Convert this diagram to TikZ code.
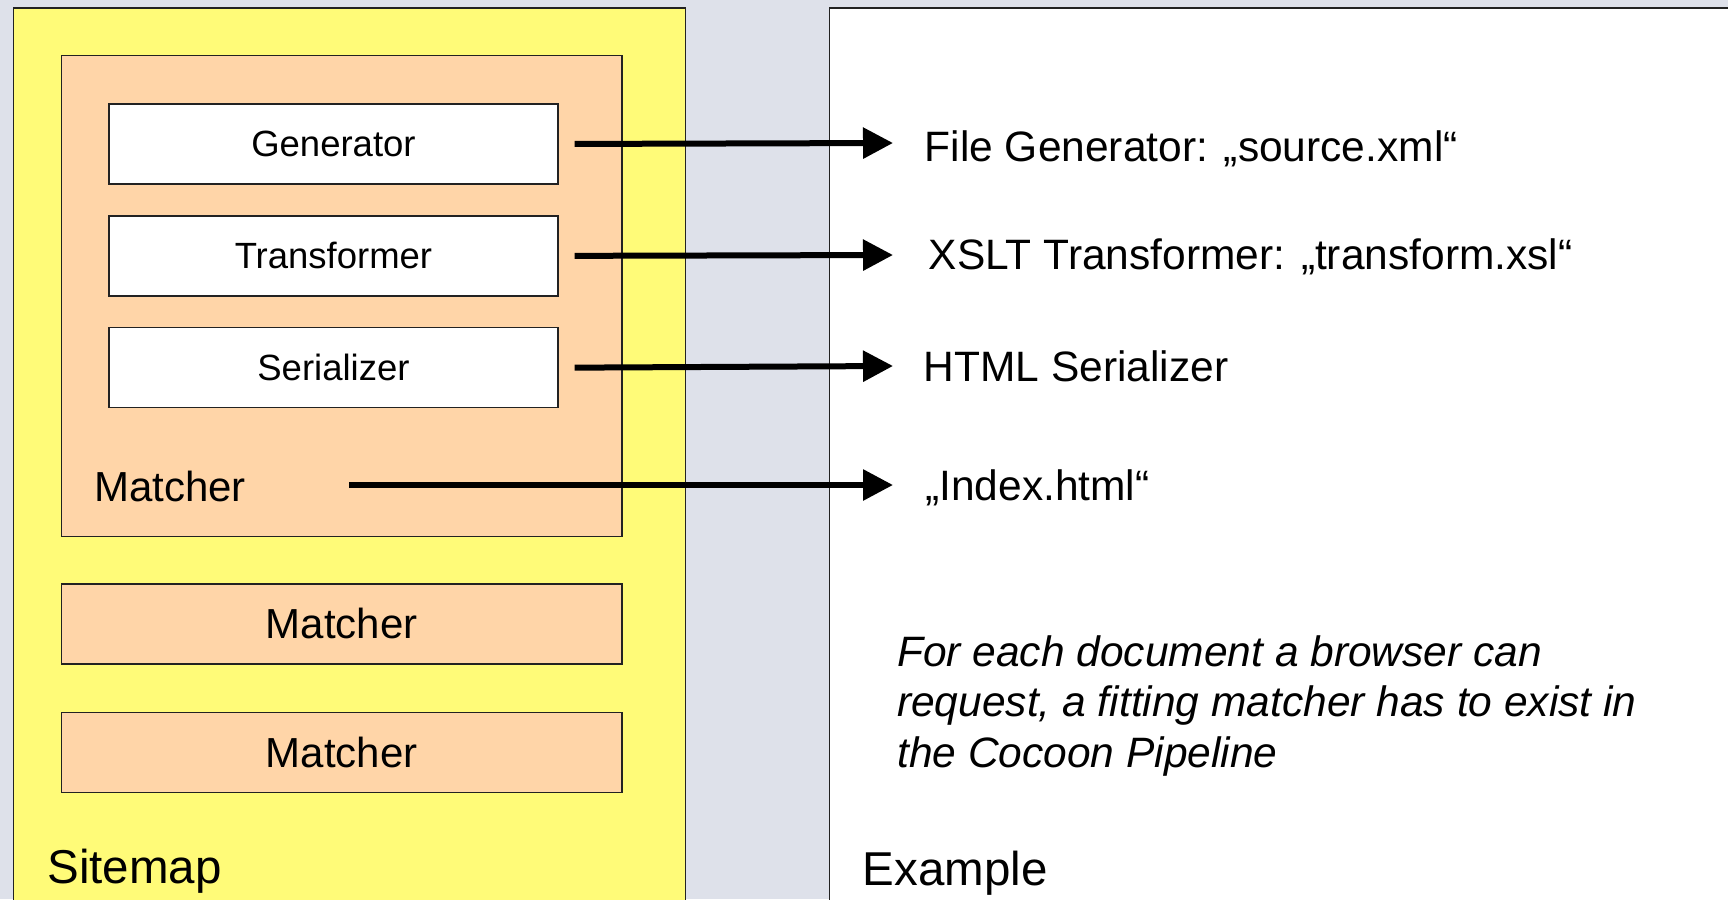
\documentclass[tikz,border=0pt]{standalone}
\usepackage{fontspec}
\setmainfont{Liberation Sans}
\usetikzlibrary{arrows.meta}
\definecolor{bgc}{HTML}{DEE1EA}
\definecolor{yellowc}{HTML}{FFFB78}
\definecolor{peachc}{HTML}{FFD5A8}
\definecolor{edgec}{HTML}{222222}
\tikzset{
  panel/.style={draw=edgec, line width=1.3pt, anchor=north west, inner sep=0pt},
  stage/.style={panel, fill=white, minimum width=449pt, minimum height=80pt,
    font=\fontsize{36.5}{44}\selectfont},
  matchbox/.style={panel, fill=peachc, minimum width=560.5pt, minimum height=80pt,
    font=\fontsize{42}{50}\selectfont},
  rtext/.style={anchor=base west, inner sep=0pt, font=\fontsize{42.5}{51}\selectfont},
  bigtext/.style={anchor=base west, inner sep=0pt, font=\fontsize{47.5}{56}\selectfont},
  conn/.style={line width=6pt, -{Triangle[length=30pt,width=30pt]}}
}
\begin{document}
\begin{tikzpicture}[x=1pt,y=-1pt]
\useasboundingbox (0,0) rectangle (1728,899);
\clip (0,0) rectangle (1728,899);
\fill[bgc] (0,0) rectangle (1728,899);

% panels
\node[panel, fill=yellowc, minimum width=672pt, minimum height=910pt] (sitemap) at (13,7.5) {};
\node[panel, fill=white, minimum width=920pt, minimum height=910pt] (example) at (829,7.5) {};
\node[panel, fill=peachc, minimum width=560.5pt, minimum height=480.7pt] (matcher) at (60.7,55) {};

% stages
\node[stage] (gen) at (108.3,103.3) {Generator};
\node[stage] (trans) at (108.3,215.2) {Transformer};
\node[stage] (ser) at (108.3,327) {Serializer};

\node[anchor=base west, inner sep=0pt, font=\fontsize{42}{50}\selectfont] (mlabel) at (94,501) {Matcher};

\node[matchbox] (m2) at (60.7,583.3) {Matcher};
\node[matchbox] (m3) at (60.7,711.5) {Matcher};

\node[bigtext] (sitelabel) at (47.3,883) {Sitemap};
\node[bigtext] (exlabel) at (862.5,885) {Example};

% right texts
\node[rtext] (t1) at (924.5,161) {File Generator: „source.xml“};
\node[rtext] (t2) at (928.5,269.5) {XSLT Transformer: „transform.xsl“};
\node[rtext] (t3) at (923.6,381) {HTML Serializer};
\node[rtext] (t4) at (925,500) {„Index.html“};

\node[rtext, align=left, font=\fontsize{42.5}{50.5}\selectfont\itshape] (note) at (897,767)
  {For each document a browser can\\request, a fitting matcher has to exist in\\the Cocoon Pipeline};

% connectors
\coordinate (e1) at (893,143);
\coordinate (e2) at (893,255);
\coordinate (e3) at (893,366);
\coordinate (s4) at (349,485);
\coordinate (e4) at (893,485);
\draw[conn] ([xshift=16pt]gen.east) -- (e1);
\draw[conn] ([xshift=16pt]trans.east) -- (e2);
\draw[conn] ([xshift=16pt]ser.east) -- (e3);
\draw[conn] (s4) -- (e4);
\end{tikzpicture}
\end{document}
